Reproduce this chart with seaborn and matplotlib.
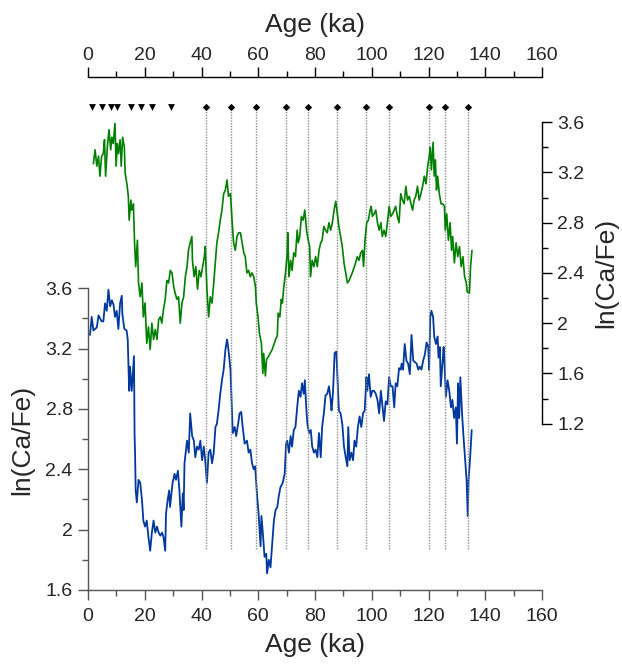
import numpy as np
import pandas as pd
import matplotlib
matplotlib.use('Agg')
import matplotlib.pyplot as plt
import matplotlib.ticker as mticker
import matplotlib.transforms as mtrans
import seaborn as sns

# ── DATA ─────────────────────────────────────────────────────────────────────
# blue record (left axis)
blue_age = [0.7, 1.3, 1.9, 3.1, 3.7, 4.8, 5.4, 6.0, 6.6, 7.2, 7.8, 8.4, 9.0, 9.5, 10.1,
            10.7, 11.3, 11.9, 12.1, 12.8, 13.6, 14.0, 14.5, 14.8, 15.4, 16.2, 16.4, 16.6,
            16.8, 17.2, 17.8, 18.4, 19.0, 19.5, 20.1, 20.7, 21.3, 21.9, 22.5, 23.1, 23.7,
            24.3, 24.9, 25.5, 26.1, 26.6, 27.2, 27.5, 28.1, 28.6, 28.9, 29.8, 30.5, 31.0,
            31.7, 32.2, 32.9, 33.4, 33.7, 34.0, 34.9, 35.5, 36.0, 36.7, 37.3, 37.8, 38.4,
            39.0, 39.6, 40.2, 40.8, 41.3, 41.9, 42.5, 43.1, 43.7, 44.3, 44.9, 45.4, 46.0,
            46.6, 47.2, 47.8, 48.4, 49.0, 49.5, 50.2, 50.5, 51.0, 51.7, 52.2, 52.9, 53.4,
            54.0, 54.5, 55.2, 56.0, 56.6, 57.2, 57.8, 58.4, 58.9, 59.6, 60.1, 60.8, 61.1,
            61.6, 62.2, 62.8, 63.1, 63.7, 64.3, 64.9, 65.5, 66.1, 66.7, 67.2, 67.8, 68.6,
            69.3, 69.8, 70.2, 70.8, 71.4, 71.9, 72.5, 73.1, 73.7, 74.3, 74.9, 75.4, 76.0,
            76.4, 76.9, 77.3, 77.9, 78.5, 79.0, 79.6, 80.2, 80.8, 81.4, 82.0, 82.5, 83.1,
            83.7, 84.3, 84.9, 85.5, 85.8, 86.3, 86.9, 87.5, 87.9, 88.4, 89.0, 89.6, 90.2,
            90.8, 91.4, 91.7, 92.2, 92.8, 93.4, 93.9, 94.5, 95.1, 95.7, 96.3, 96.9, 97.5,
            98.1, 98.4, 99.0, 99.6, 100.2, 100.8, 101.4, 102.0, 102.6, 103.2, 103.7, 104.3,
            104.9, 105.5, 106.1, 106.7, 107.3, 107.9, 108.4, 109.0, 109.6, 110.2, 110.5,
            111.0, 111.6, 112.2, 112.8, 113.4, 114.0, 114.6, 115.2, 115.8, 116.4, 116.9,
            117.5, 118.1, 118.7, 119.3, 119.9, 120.2, 120.6, 121.0, 121.6, 122.0, 122.6,
            123.2, 123.5, 124.0, 124.3, 124.9, 125.3, 125.6, 126.1, 126.7, 127.3, 127.9,
            128.4, 129.0, 129.6, 130.0, 130.4, 130.8, 131.2, 131.8, 132.3, 132.9, 133.4,
            133.8, 134.1, 134.6, 135.2]
blue_val = [3.29, 3.41, 3.32, 3.34, 3.42, 3.38, 3.38, 3.50, 3.45, 3.59, 3.48, 3.52, 3.49, 3.41, 3.45,
            3.33, 3.50, 3.55, 3.43, 3.33, 3.32, 3.26, 2.92, 3.08, 2.92, 3.15, 2.64, 2.48,
            2.26, 2.18, 2.33, 2.31, 2.20, 2.06, 2.02, 2.06, 1.95, 1.86, 1.98, 2.06, 1.98,
            2.02, 1.98, 1.96, 1.98, 1.95, 1.86, 2.11, 2.20, 2.26, 2.15, 2.31, 2.37, 2.33,
            2.39, 2.26, 2.02, 2.24, 2.13, 2.44, 2.59, 2.51, 2.77, 2.62, 2.59, 2.48, 2.55,
            2.53, 2.59, 2.46, 2.55, 2.46, 2.31, 2.51, 2.53, 2.44, 2.51, 2.68, 2.70, 2.79,
            2.90, 2.99, 3.06, 3.19, 3.26, 3.19, 3.06, 2.90, 2.64, 2.68, 2.62, 2.70, 2.77,
            2.78, 2.68, 2.57, 2.59, 2.51, 2.53, 2.44, 2.40, 2.42, 2.22, 2.11, 1.89, 2.09,
            1.98, 1.82, 1.84, 1.71, 1.80, 1.75, 1.91, 2.06, 2.13, 2.15, 2.22, 2.28, 2.31,
            2.37, 2.57, 2.59, 2.51, 2.62, 2.55, 2.66, 2.68, 2.81, 2.92, 2.88, 2.97, 2.90,
            2.99, 2.81, 2.70, 2.64, 2.66, 2.55, 2.51, 2.53, 2.48, 2.64, 2.48, 2.68, 2.77,
            2.89, 2.90, 2.95, 2.86, 2.79, 2.90, 3.17, 3.18, 3.01, 2.79, 2.77, 2.70, 2.55,
            2.48, 2.42, 2.68, 2.46, 2.51, 2.46, 2.59, 2.55, 2.68, 2.75, 2.68, 2.77, 2.79,
            3.01, 2.92, 3.03, 2.88, 2.92, 2.92, 2.90, 2.86, 2.77, 2.92, 2.83, 2.72,
            2.85, 2.83, 3.01, 2.95, 2.95, 2.81, 2.97, 2.95, 3.07, 3.06, 3.10,
            3.06, 3.23, 3.12, 3.10, 3.03, 3.29, 3.12, 3.11, 3.10, 3.06, 3.08,
            3.06, 3.12, 3.16, 3.24, 3.21, 3.06, 3.41, 3.45, 3.41, 3.28, 3.23,
            3.28, 3.14, 3.21, 2.95, 3.10, 3.21, 3.12, 2.88, 2.99, 2.92, 2.81,
            2.86, 2.74, 2.81, 2.57, 2.97, 2.74, 3.01, 2.77, 2.62, 2.46, 2.33,
            2.09, 2.33, 2.46, 2.66]

# green record (right axis)
green_age = [1.9, 2.5, 3.1, 3.7, 4.2, 4.8, 5.4, 5.8, 6.2, 6.8, 7.4, 8.0, 8.4, 8.9, 9.5, 9.9,
             10.3, 10.7, 11.3, 11.7, 12.2, 12.8, 13.1, 13.7, 14.2, 14.5, 15.1, 15.4, 16.0,
             16.4, 16.8, 17.4, 17.8, 18.4, 19.0, 19.5, 20.1, 20.7, 21.3, 21.9, 22.5, 23.1,
             23.7, 24.3, 24.9, 25.5, 26.0, 26.6, 27.2, 27.8, 28.4, 29.0, 29.6, 30.2, 30.7,
             31.3, 31.9, 32.5, 33.1, 33.7, 34.3, 34.9, 35.4, 36.0, 36.6, 36.8, 37.4, 38.0,
             38.6, 39.2, 39.8, 40.4, 41.0, 41.3, 41.9, 42.5, 43.1, 43.7, 44.3, 44.9, 45.4,
             46.0, 46.6, 47.2, 47.8, 48.4, 49.0, 49.5, 50.2, 50.8, 51.3, 51.9, 52.5, 53.1,
             53.7, 54.3, 54.9, 55.4, 56.0, 56.6, 57.2, 57.8, 58.4, 59.0, 59.3, 59.9, 60.4,
             61.1, 61.6, 61.9, 62.5, 62.9, 63.7, 64.9, 66.1, 66.7, 67.0, 67.6, 68.1, 68.5,
             69.0, 69.6, 70.2, 70.4, 70.8, 71.4, 71.9, 72.5, 73.1, 73.7, 74.1, 74.6, 75.2,
             75.8, 76.4, 77.0, 77.6, 78.1, 78.4, 79.0, 79.6, 80.2, 80.8, 81.4, 82.0, 82.5,
             83.1, 83.7, 84.3, 84.9, 85.5, 86.1, 86.7, 87.3, 87.7, 88.4, 89.6, 90.2, 90.8,
             91.4, 92.0, 93.1, 94.3, 94.9, 95.5, 96.1, 96.7, 97.1, 97.6, 98.2, 98.8, 99.4,
             99.8, 100.2, 100.8, 101.4, 102.0, 102.6, 103.2, 103.7, 104.3, 104.9, 105.5,
             106.1, 106.7, 107.3, 107.9, 108.4, 109.0, 109.6, 110.2, 110.8, 111.4, 112.0,
             112.6, 113.2, 113.8, 114.4, 114.9, 115.5, 116.1, 116.7, 117.3, 117.9, 118.5,
             119.1, 119.7, 120.2, 120.6, 121.0, 121.6, 122.0, 122.4, 122.8, 123.2, 123.8,
             124.4, 125.0, 125.6, 125.9, 126.4, 127.0, 127.6, 128.1, 128.5, 129.1, 129.7,
             130.3, 130.9, 131.5, 132.1, 132.7, 133.3, 133.6, 134.4, 134.8, 135.3]
green_val = [3.27, 3.38, 3.25, 3.33, 3.17, 3.33, 3.35, 3.46, 3.17, 3.40, 3.54, 3.38, 3.48, 3.43, 3.59, 3.25,
             3.43, 3.35, 3.46, 3.25, 3.48, 3.40, 3.19, 3.11, 3.01, 2.82, 2.98, 2.90, 2.95,
             2.64, 2.45, 2.66, 2.32, 2.21, 2.32, 2.05, 2.16, 1.84, 1.97, 1.79, 2.00, 1.87,
             1.95, 1.87, 2.03, 2.05, 2.00, 2.11, 2.19, 2.34, 2.32, 2.42, 2.40, 2.29, 2.24,
             2.19, 2.21, 2.00, 2.16, 2.21, 2.37, 2.45, 2.58, 2.64, 2.69, 2.50, 2.37, 2.45,
             2.27, 2.42, 2.37, 2.45, 2.53, 2.61, 2.27, 2.05, 2.21, 2.16, 2.32, 2.50, 2.64,
             2.72, 2.82, 2.90, 3.03, 3.06, 3.14, 3.01, 3.03, 2.80, 2.64, 2.58, 2.69, 2.72,
             2.72, 2.64, 2.56, 2.53, 2.40, 2.42, 2.37, 2.40, 2.37, 2.29, 2.16, 2.05, 1.92,
             1.84, 1.60, 1.76, 1.58, 1.71, 1.74, 1.79, 1.87, 1.90, 2.08, 2.05, 2.19, 2.16,
             2.29, 2.40, 2.56, 2.72, 2.37, 2.50, 2.42, 2.56, 2.53, 2.74, 2.64, 2.69, 2.85,
             2.82, 2.90, 2.74, 2.66, 2.61, 2.37, 2.50, 2.45, 2.53, 2.45, 2.58, 2.64, 2.66,
             2.77, 2.74, 2.72, 2.80, 2.74, 2.80, 2.90, 2.97, 2.90, 2.77, 2.61, 2.48, 2.40,
             2.32, 2.34, 2.40, 2.48, 2.53, 2.50, 2.56, 2.58, 2.45, 2.66, 2.80, 2.82, 2.90,
             2.93, 2.85, 2.87, 2.90, 2.80, 2.74, 2.80, 2.69, 2.74, 2.69, 2.80,
             2.93, 2.85, 2.87, 2.90, 2.93, 2.85, 2.80, 3.03, 2.98, 2.95, 3.09,
             2.98, 3.01, 2.95, 2.90, 2.98, 3.01, 3.09, 2.98, 3.03, 3.09, 3.17,
             3.11, 3.25, 3.32, 3.40, 3.22, 3.44, 3.17, 3.30, 3.06, 3.17, 3.03,
             2.95, 2.95, 2.93, 2.74, 2.87, 2.66, 2.80, 2.58, 2.69, 2.48, 2.64,
             2.53, 2.61, 2.45, 2.53, 2.37, 2.32, 2.25, 2.24, 2.45, 2.58]

# age control points
tri_age = [1.5, 5.0, 8.0, 10.1, 15.2, 18.6, 22.7, 29.3]
dia_age = [41.7, 50.5, 59.1, 69.7, 77.4, 87.7, 98.0, 106.0, 120.3, 125.7, 133.9]

age_ticks = [0, 20, 40, 60, 80, 100, 120, 140, 160]
left_ticks = [1.6, 2.0, 2.4, 2.8, 3.2, 3.6]
right_ticks = [1.2, 1.6, 2.0, 2.4, 2.8, 3.2, 3.6]

df_blue = pd.DataFrame({'age': blue_age, 'val': blue_val})
df_green = pd.DataFrame({'age': green_age, 'val': green_val})

# ── STYLE ────────────────────────────────────────────────────────────────────
sns.set_style('ticks')
plt.rcParams['font.family'] = ['Liberation Sans', 'DejaVu Sans']
TICK_FS = 14
LABEL_FS = 19
GREY = '#555555'

fig = plt.figure(figsize=(6.22, 6.68), dpi=100)
ax = fig.add_axes([0.1415, 0.1168, 0.730, 0.768])
ax2 = ax.twinx()

# ── CURVES ───────────────────────────────────────────────────────────────────
sns.lineplot(data=df_blue, x='age', y='val', ax=ax, color='#00389f',
             linewidth=1.3, estimator=None, sort=False)
sns.lineplot(data=df_green, x='age', y='val', ax=ax2, color='#008000',
             linewidth=1.2, estimator=None, sort=False)

# dotted lines + markers (x in data, y in axes fraction)
trans = mtrans.blended_transform_factory(ax.transData, ax.transAxes)
ax.vlines(dia_age, 0.079, 0.935, transform=trans, colors='#8c8c8c',
          linestyles=(0, (1, 1)), linewidth=1.0)
ax.scatter(tri_age, [0.942] * len(tri_age), transform=trans, marker='v',
           s=24, color='black', clip_on=False, zorder=5, linewidths=0)
ax.scatter(dia_age, [0.942] * len(dia_age), transform=trans, marker='D',
           s=14, color='black', clip_on=False, zorder=5, linewidths=0)

# ── AXES: left / bottom ──────────────────────────────────────────────────────
ax.set_xlim(0, 160)
ax.set_ylim(1.6, 5.0)
ax.set_xticks(age_ticks)
ax.xaxis.set_minor_locator(mticker.MultipleLocator(10))
ax.set_yticks(left_ticks)
ax.set_yticks([1.8, 2.2, 2.6, 3.0, 3.4], minor=True)
ax.yaxis.set_major_formatter(mticker.FuncFormatter(lambda v, p: f'{v:g}'))
ax.spines['top'].set_visible(False)
ax.spines['right'].set_visible(False)
ax.spines['left'].set_bounds(1.6, 3.6)
for s in ('left', 'bottom'):
    ax.spines[s].set_color(GREY)
    ax.spines[s].set_linewidth(1.0)
ax.tick_params(axis='both', which='major', direction='out', length=7, width=1.0,
               color=GREY, labelsize=TICK_FS, pad=4)
ax.tick_params(axis='x', which='major', pad=6)
ax.tick_params(axis='both', which='minor', direction='out', length=4, width=1.0, color=GREY)
ax.set_xlabel('Age (ka)', fontsize=LABEL_FS, labelpad=6)
ax.set_ylabel('ln(Ca/Fe)', fontsize=LABEL_FS)
ax.yaxis.set_label_coords(-0.119, 0.293)

# ── AXES: right ──────────────────────────────────────────────────────────────
ax2.set_ylim(-0.124, 3.96)
ax2.set_yticks(right_ticks)
ax2.set_yticks([1.4, 1.8, 2.2, 2.6, 3.0, 3.4], minor=True)
ax2.yaxis.set_major_formatter(mticker.FuncFormatter(lambda v, p: f'{v:g}'))
for s in ('left', 'top', 'bottom'):
    ax2.spines[s].set_visible(False)
ax2.spines['right'].set_bounds(1.2, 3.6)
ax2.spines['right'].set_color('black')
ax2.spines['right'].set_linewidth(1.0)
ax2.tick_params(axis='y', which='major', direction='out', length=7, width=1.0,
                color='black', labelsize=TICK_FS, pad=4)
ax2.tick_params(axis='y', which='minor', direction='out', length=4, width=1.0, color='black')
ax2.set_xlabel('')
ax2.set_ylabel('ln(Ca/Fe)', fontsize=LABEL_FS)
ax2.yaxis.set_label_coords(1.115, 0.618)

# ── AXES: top ────────────────────────────────────────────────────────────────
top = ax.secondary_xaxis('top')
top.set_xticks(age_ticks)
top.xaxis.set_minor_locator(mticker.MultipleLocator(10))
top.spines['top'].set_color('black')
top.spines['top'].set_linewidth(1.0)
top.tick_params(axis='x', which='major', direction='out', length=7, width=1.0,
                color='black', labelsize=TICK_FS, pad=2)
top.tick_params(axis='x', which='minor', direction='out', length=4, width=1.0, color='black')
top.set_xlabel('Age (ka)', fontsize=LABEL_FS, labelpad=11)

fig.savefig('out.png', dpi=100)
